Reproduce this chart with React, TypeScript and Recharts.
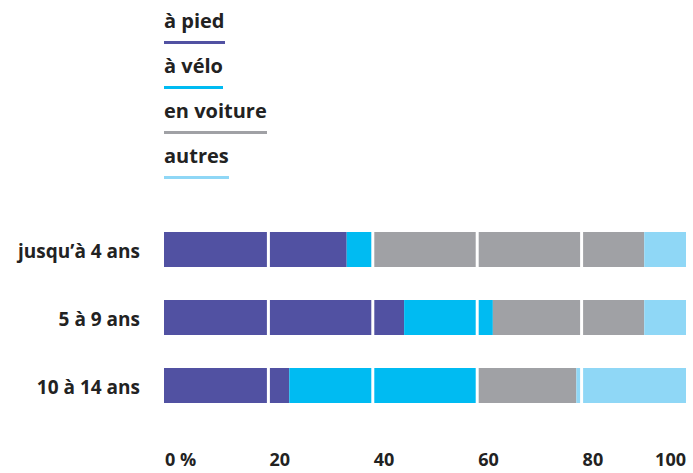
import { Bar, BarChart, ReferenceLine, XAxis, YAxis } from "recharts";

const categories = ["jusqu’à 4 ans", "5 à 9 ans", "10 à 14 ans"];
const seriesNames = ["à pied", "à vélo", "en voiture", "autres"];
const seriesColors = ["#5151a2", "#00bbf2", "#a0a1a5", "#8fd7f6"];
const aPied = [35, 46, 24];
const aVelo = [5, 17, 36];
const enVoiture = [52, 29, 19];
const autres = [8, 8, 21];
const xTicks = [0, 20, 40, 60, 80, 100];
const gridTicks = [20, 40, 60, 80];

const seriesKeys = ["pied", "velo", "voiture", "autres"];
const data = categories.map((name, i) => ({
  name,
  pied: aPied[i],
  velo: aVelo[i],
  voiture: enVoiture[i],
  autres: autres[i],
}));

const FONT = "'Open Sans', sans-serif";
const TEXT = "#222222";

const CategoryTick = ({ y, payload }: any) => (
  <text
    x={140}
    y={y}
    dy={9}
    textAnchor="end"
    fill={TEXT}
    fontFamily={FONT}
    fontWeight={700}
    fontSize={19}
  >
    {payload.value}
  </text>
);

const ValueTick = ({ x, y, payload, index }: any) => {
  const last = index === xTicks.length - 1;
  return (
    <text
      x={last ? x : x + 1}
      y={y}
      dy={39}
      textAnchor={last ? "end" : "start"}
      fill={TEXT}
      fontFamily={FONT}
      fontWeight={700}
      fontSize={18}
    >
      {payload.value === 0 ? "0 %" : payload.value}
    </text>
  );
};

export default function App() {
  return (
    <div style={{ position: "absolute", left: 0, top: 0, width: 693, height: 473 }}>
      <div style={{ position: "absolute", left: 164, top: 6, zIndex: 2 }}>
        {seriesNames.map((name, i) => (
          <div key={name} style={{ height: 45 }}>
            <span
              style={{
                display: "inline-block",
                fontFamily: FONT,
                fontWeight: 700,
                fontSize: 20,
                lineHeight: "30px",
                color: TEXT,
                borderBottom: `3px solid ${seriesColors[i]}`,
                paddingBottom: 5,
              }}
            >
              {name}
            </span>
          </div>
        ))}
      </div>
      <BarChart
        width={693}
        height={473}
        data={data}
        layout="vertical"
        barCategoryGap={0}
        barSize={35}
        margin={{ top: 215, right: 7, bottom: 0, left: 0 }}
      >
        <XAxis
          type="number"
          domain={[0, 100]}
          ticks={xTicks}
          axisLine={false}
          tickLine={false}
          height={54}
          tick={<ValueTick />}
          interval={0}
        />
        <YAxis
          type="category"
          dataKey="name"
          width={164}
          axisLine={false}
          tickLine={false}
          tick={<CategoryTick />}
        />
        {seriesKeys.map((key, i) => (
          <Bar
            key={key}
            dataKey={key}
            stackId="a"
            fill={seriesColors[i]}
            isAnimationActive={false}
          />
        ))}
        {gridTicks.map((t) => (
          <ReferenceLine key={t} x={t} stroke="#ffffff" strokeWidth={3} />
        ))}
      </BarChart>
    </div>
  );
}
